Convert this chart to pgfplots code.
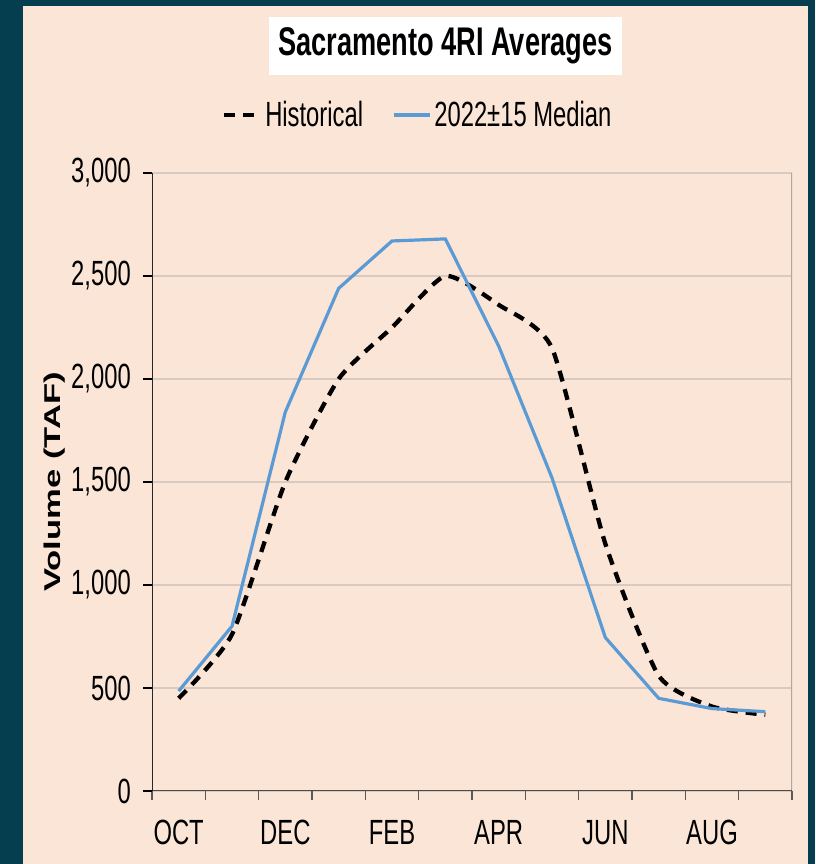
\documentclass[border=0pt]{standalone}
\usepackage{pgfplots}
\pgfplotsset{compat=1.18}
\usepackage{fontspec}
\usepackage{graphicx}
\setmainfont{Liberation Sans}[FakeStretch=0.68]
\newfontfamily\ylabfont{Liberation Sans}
\definecolor{bgteal}{RGB}{4,62,79}
\definecolor{peach}{RGB}{251,229,214}
\definecolor{gridc}{RGB}{216,202,192}
\definecolor{bordc}{RGB}{178,168,160}
\definecolor{medblue}{RGB}{91,155,213}

\begin{document}
\begin{tikzpicture}
\fill[bgteal] (0,0) rectangle (815pt,864pt);
\fill[peach] (23pt,0) rectangle (808pt,858pt);
\node[fill=white, minimum width=353pt, minimum height=58pt, inner sep=0pt,
      font=\fontsize{40}{44}\selectfont\bfseries] at (445.5pt,818pt) {Sacramento 4RI Averages};
\begin{axis}[
  at={(152pt,73pt)}, anchor=south west,
  width=640pt, height=618pt, scale only axis,
  xmin=0.5, xmax=12.5, ymin=0, ymax=3000,
  xtick={0.5,1.5,...,12.5},
  xticklabels={OCT,{},DEC,{},FEB,{},APR,{},JUN,{},AUG,{}},
  x tick label as interval,
  ytick={0,500,...,3000},
  xtick pos=lower, ytick pos=left,
  ymajorgrids,
  grid style={gridc, line width=2pt},
  axis line style={draw=none},
  tick align=outside,
  major tick length=9pt,
  xtick style={gray!70!black, line width=1.5pt},
  ytick style={black, line width=1.5pt},
  tick label style={font=\fontsize{35}{40}\selectfont},
  /pgf/number format/assume math mode=true,
  /pgf/number format/1000 sep={,},
  yticklabel style={inner sep=0pt, xshift=-12pt},
  xticklabel style={inner sep=0pt, yshift=-20pt},
  ylabel={\scalebox{1}[0.66]{\ylabfont\bfseries\fontsize{34.6}{38}\selectfont Volume (TAF)}},
  ylabel style={at={(axis description cs:-0.1516,0.5)}, anchor=center},
  legend columns=2,
  legend style={at={(axis description cs:0.109,1.094)}, anchor=west, draw=none, fill=none,
    inner sep=0pt, font=\fontsize{35}{38}\selectfont,
    nodes={inner xsep=3pt},
    /tikz/every even column/.append style={column sep=26pt}},
  legend image code/.code={\draw[#1] (0pt,0pt) -- (36pt,0pt);},
]
\addplot[black, line width=4.3pt, dash pattern=on 11pt off 8pt, smooth, tension=0.35]
  coordinates {(1,450) (2,760) (3,1500) (4,2000) (5,2250) (6,2500) (7,2360) (8,2150) (9,1200) (10,560) (11,410) (12,370)};
\addlegendentry{Historical}
\addplot[medblue, line width=3.2pt]
  coordinates {(1,485) (2,800) (3,1840) (4,2440) (5,2670) (6,2680) (7,2160) (8,1520) (9,745) (10,450) (11,400) (12,385)};
\addlegendentry{2022\textpm15 Median}
\draw[bordc, line width=2pt] (rel axis cs:1,0) -- (rel axis cs:1,1);
\draw[gray!60!black, line width=2pt] (rel axis cs:0,0) -- (rel axis cs:1,0);
\draw[black!85, line width=2pt] (rel axis cs:0,0) -- (rel axis cs:0,1);
\end{axis}
\end{tikzpicture}
\end{document}
